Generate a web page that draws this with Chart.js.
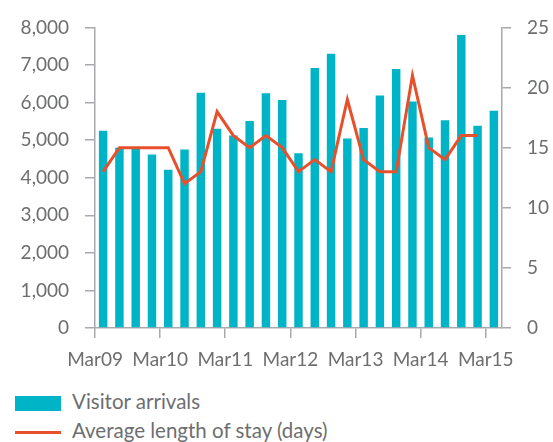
<!DOCTYPE html>
<html>
<head>
<meta charset="utf-8">
<script src="https://cdn.jsdelivr.net/npm/chart.js@4.4.1/dist/chart.umd.min.js"></script>
<style>
  body { margin: 0; background: #fff; font-family: Lato, sans-serif; }
  #wrap { position: relative; width: 553px; height: 442px; }
  #box { position: absolute; left: 0; top: 0; width: 553px; height: 380px; }
  .leg { position: absolute; left: 15px; font-size: 20.5px; color: #6d6e70; white-space: nowrap; }
  .leg span { display: inline-block; vertical-align: middle; margin-right: 11px; }
</style>
</head>
<body>
<div id="wrap">
  <div id="box"><canvas id="myChart"></canvas></div>
  <div class="leg" style="top:389px"><span style="width:46px;height:15px;background:#00b4c8"></span>Visitor arrivals</div>
  <div class="leg" style="top:418px"><span style="width:46px;height:3px;background:#e8502c"></span>Average length of stay (days)</div>
</div>
<script>
const quarters = [
  'Mar09', 'Jun09', 'Sep09', 'Dec09',
  'Mar10', 'Jun10', 'Sep10', 'Dec10',
  'Mar11', 'Jun11', 'Sep11', 'Dec11',
  'Mar12', 'Jun12', 'Sep12', 'Dec12',
  'Mar13', 'Jun13', 'Sep13', 'Dec13',
  'Mar14', 'Jun14', 'Sep14', 'Dec14',
  'Mar15'
]
const arrivals = [
  5250, 4800, 4800, 4620,
  4210, 4750, 6260, 5300,
  5120, 5510, 6250, 6070,
  4650, 6920, 7300, 5040,
  5320, 6190, 6890, 6030,
  5070, 5530, 7800, 5380,
  5780
]
const stay = [
  13, 15, 15, 15,
  15, 12, 13, 18,
  16, 15, 16, 15,
  13, 14, 13, 19,
  14, 13, 13, 21,
  15, 14, 16, 16,
  null
]
const leftTicks = [0, 1000, 2000, 3000, 4000, 5000, 6000, 7000, 8000]
const rightTicks = [0, 5, 10, 15, 20, 25]

const grey = '#6d6e70'
const axisGrey = '#a7a9ac'

const ctx = document.getElementById('myChart').getContext('2d')
const myChart = new Chart(ctx, {
  data: {
    labels: quarters,
    datasets: [{
      type: 'line',
      label: 'Average length of stay (days)',
      data: stay,
      yAxisID: 'y1',
      borderColor: '#e8502c',
      borderWidth: 3,
      pointRadius: 0,
      tension: 0,
      order: 0
    }, {
      type: 'bar',
      label: 'Visitor arrivals',
      data: arrivals,
      yAxisID: 'y',
      backgroundColor: '#00b4c8',
      categoryPercentage: 1,
      barPercentage: 0.52,
      order: 1
    }]
  },
  options: {
    responsive: true,
    maintainAspectRatio: false,
    animation: false,
    layout: { padding: { top: 25, left: 0, right: 0, bottom: 0 } },
    plugins: { legend: { display: false }, tooltip: { enabled: false } },
    scales: {
      x: {
        offset: true,
        grid: {
          offset: true,
          drawOnChartArea: false,
          tickLength: 10,
          color: (c) => (c.index % 4 === 0 ? axisGrey : 'rgba(0,0,0,0)'),
          lineWidth: 1.5
        },
        border: { color: axisGrey, width: 1.5 },
        ticks: {
          autoSkip: false,
          maxRotation: 0,
          labelOffset: -8.1,
          padding: 10,
          color: grey,
          font: { family: 'Lato', size: 19 },
          callback: function (v, i) { return i % 4 === 0 ? quarters[i] : '' }
        },
        afterFit: (s) => { s.height = 52 }
      },
      y: {
        position: 'left',
        min: 0,
        max: 8000,
        afterBuildTicks: (s) => { s.ticks = leftTicks.map(v => ({ value: v })) },
        grid: { drawOnChartArea: false, tickLength: 10, color: axisGrey, lineWidth: 1.5 },
        border: { color: axisGrey, width: 1.5 },
        ticks: {
          padding: 16,
          color: grey,
          font: { family: 'Lato', size: 19 },
          callback: (v) => v.toLocaleString('en-US')
        },
        afterFit: (s) => { s.width = 95 }
      },
      y1: {
        position: 'right',
        min: 0,
        max: 25,
        afterBuildTicks: (s) => { s.ticks = rightTicks.map(v => ({ value: v })) },
        grid: { drawOnChartArea: false, tickLength: 9, color: axisGrey, lineWidth: 1.5 },
        border: { color: axisGrey, width: 1.5 },
        ticks: {
          padding: 16,
          color: grey,
          font: { family: 'Lato', size: 19 }
        },
        afterFit: (s) => { s.width = 51 }
      }
    }
  }
})
</script>
</body>
</html>
